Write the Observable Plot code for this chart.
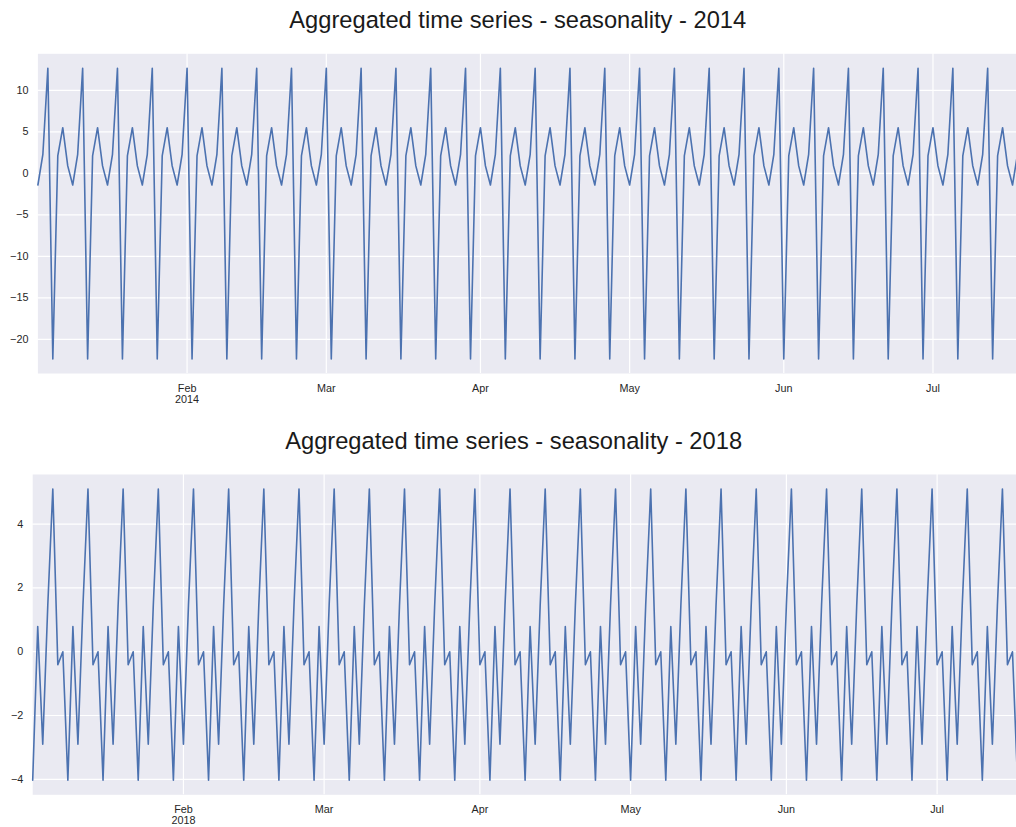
<!DOCTYPE html>
<html>
<head>
<meta charset="utf-8">
<script src="https://cdn.jsdelivr.net/npm/d3@7"></script>
<script src="https://cdn.jsdelivr.net/npm/@observablehq/plot@0.6"></script>
<style>
  html, body { margin: 0; padding: 0; background: #ffffff; overflow: hidden; }
  svg { display: block; }
</style>
</head>
<body>
<div id="charts"></div>
<script>
// Weekly seasonal component of the aggregated series, one row per week.
// 2014 rows run Thursday → Wednesday, starting Thu 2 Jan 2014.
const seasonal2014 = [
  -1.4, 2.3, 12.65, -22.35, 2.1, 5.5, 0.9,
  -1.4, 2.3, 12.65, -22.35, 2.1, 5.5, 0.9,
  -1.4, 2.3, 12.65, -22.35, 2.1, 5.5, 0.9,
  -1.4, 2.3, 12.65, -22.35, 2.1, 5.5, 0.9,
  -1.4, 2.3, 12.65, -22.35, 2.1, 5.5, 0.9,
  -1.4, 2.3, 12.65, -22.35, 2.1, 5.5, 0.9,
  -1.4, 2.3, 12.65, -22.35, 2.1, 5.5, 0.9,
  -1.4, 2.3, 12.65, -22.35, 2.1, 5.5, 0.9,
  -1.4, 2.3, 12.65, -22.35, 2.1, 5.5, 0.9,
  -1.4, 2.3, 12.65, -22.35, 2.1, 5.5, 0.9,
  -1.4, 2.3, 12.65, -22.35, 2.1, 5.5, 0.9,
  -1.4, 2.3, 12.65, -22.35, 2.1, 5.5, 0.9,
  -1.4, 2.3, 12.65, -22.35, 2.1, 5.5, 0.9,
  -1.4, 2.3, 12.65, -22.35, 2.1, 5.5, 0.9,
  -1.4, 2.3, 12.65, -22.35, 2.1, 5.5, 0.9,
  -1.4, 2.3, 12.65, -22.35, 2.1, 5.5, 0.9,
  -1.4, 2.3, 12.65, -22.35, 2.1, 5.5, 0.9,
  -1.4, 2.3, 12.65, -22.35, 2.1, 5.5, 0.9,
  -1.4, 2.3, 12.65, -22.35, 2.1, 5.5, 0.9,
  -1.4, 2.3, 12.65, -22.35, 2.1, 5.5, 0.9,
  -1.4, 2.3, 12.65, -22.35, 2.1, 5.5, 0.9,
  -1.4, 2.3, 12.65, -22.35, 2.1, 5.5, 0.9,
  -1.4, 2.3, 12.65, -22.35, 2.1, 5.5, 0.9,
  -1.4, 2.3, 12.65, -22.35, 2.1, 5.5, 0.9,
  -1.4, 2.3, 12.65, -22.35, 2.1, 5.5, 0.9,
  -1.4, 2.3, 12.65, -22.35, 2.1, 5.5, 0.9,
  -1.4, 2.3, 12.65, -22.35, 2.1, 5.5, 0.9,
  -1.4, 2.3, 12.65, -22.35, 2.1, 5.5, 0.9,
  -1.4, 2.3
];

// 2018 rows run Tuesday → Monday, starting Tue 2 Jan 2018.
const seasonal2018 = [
  -4.03, 0.79, -2.9, 1.45, 5.1, -0.41, 0.0,
  -4.03, 0.79, -2.9, 1.45, 5.1, -0.41, 0.0,
  -4.03, 0.79, -2.9, 1.45, 5.1, -0.41, 0.0,
  -4.03, 0.79, -2.9, 1.45, 5.1, -0.41, 0.0,
  -4.03, 0.79, -2.9, 1.45, 5.1, -0.41, 0.0,
  -4.03, 0.79, -2.9, 1.45, 5.1, -0.41, 0.0,
  -4.03, 0.79, -2.9, 1.45, 5.1, -0.41, 0.0,
  -4.03, 0.79, -2.9, 1.45, 5.1, -0.41, 0.0,
  -4.03, 0.79, -2.9, 1.45, 5.1, -0.41, 0.0,
  -4.03, 0.79, -2.9, 1.45, 5.1, -0.41, 0.0,
  -4.03, 0.79, -2.9, 1.45, 5.1, -0.41, 0.0,
  -4.03, 0.79, -2.9, 1.45, 5.1, -0.41, 0.0,
  -4.03, 0.79, -2.9, 1.45, 5.1, -0.41, 0.0,
  -4.03, 0.79, -2.9, 1.45, 5.1, -0.41, 0.0,
  -4.03, 0.79, -2.9, 1.45, 5.1, -0.41, 0.0,
  -4.03, 0.79, -2.9, 1.45, 5.1, -0.41, 0.0,
  -4.03, 0.79, -2.9, 1.45, 5.1, -0.41, 0.0,
  -4.03, 0.79, -2.9, 1.45, 5.1, -0.41, 0.0,
  -4.03, 0.79, -2.9, 1.45, 5.1, -0.41, 0.0,
  -4.03, 0.79, -2.9, 1.45, 5.1, -0.41, 0.0,
  -4.03, 0.79, -2.9, 1.45, 5.1, -0.41, 0.0,
  -4.03, 0.79, -2.9, 1.45, 5.1, -0.41, 0.0,
  -4.03, 0.79, -2.9, 1.45, 5.1, -0.41, 0.0,
  -4.03, 0.79, -2.9, 1.45, 5.1, -0.41, 0.0,
  -4.03, 0.79, -2.9, 1.45, 5.1, -0.41, 0.0,
  -4.03, 0.79, -2.9, 1.45, 5.1, -0.41, 0.0,
  -4.03, 0.79, -2.9, 1.45, 5.1, -0.41, 0.0,
  -4.03, 0.79, -2.9, 1.45, 5.1, -0.41, 0.0,
  -4.03
];

const startDate2014 = "2014-01-02";
const startDate2018 = "2018-01-02";

// Month tick labels on the date axis
const monthLabels = ["Feb", "Mar", "Apr", "May", "Jun", "Jul"];

// Value ticks for each panel
const yTicks2014 = [-20, -15, -10, -5, 0, 5, 10];
const yTicks2018 = [-4, -2, 0, 2, 4];

const titleText = "Aggregated time series - seasonality - ";

const FONT = "'Liberation Sans', Arial, Helvetica, sans-serif";
const BG = "#EAEAF2";
const LINE = "#4C72B0";
const INK = "#262626";

function panel({year, start, values, yTicks, height, marginLeft, marginTop, marginBottom, titleDx, titleDy}) {
  const t0 = new Date(start + "T00:00:00Z");
  const rows = values.map((v, i) => ({date: d3.utcDay.offset(t0, i), value: v}));
  const [lo, hi] = d3.extent(values);
  const pad = (hi - lo) * 0.05;
  const monthTicks = monthLabels.map((_, i) => new Date(Date.UTC(year, i + 1, 1)));
  const fmt = (d) => {
    const m = d.getUTCMonth();
    return m === 1 ? `${monthLabels[0]}\n${year}` : monthLabels[m - 1];
  };
  return Plot.plot({
    width: 1016,
    height,
    marginLeft,
    marginRight: -1,
    marginTop,
    marginBottom,
    style: {fontFamily: FONT, fontSize: "10.8px", color: INK, background: "transparent", overflow: "visible"},
    x: {type: "utc", domain: d3.extent(rows, (d) => d.date), axis: null},
    y: {domain: [lo - pad, hi + pad], axis: null},
    marks: [
      Plot.frame({fill: BG, stroke: null}),
      Plot.gridX(monthTicks, {stroke: "#ffffff", strokeOpacity: 1, strokeWidth: 1.2}),
      Plot.gridY(yTicks, {stroke: "#ffffff", strokeOpacity: 1, strokeWidth: 1.2}),
      Plot.lineY(rows, {x: "date", y: "value", stroke: LINE, strokeWidth: 1.6}),
      Plot.axisX(monthTicks, {tickSize: 0, tickPadding: 10, tickFormat: fmt, label: null, fill: INK, lineHeight: 1.05}),
      Plot.axisY(yTicks, {tickSize: 0, tickPadding: 9.5, label: null, fill: INK}),
      Plot.text([titleText + year], {
        frameAnchor: "top",
        lineAnchor: "middle",
        dx: titleDx,
        dy: titleDy,
        fontSize: 23.7,
        fill: "#1a1a1a"
      })
    ]
  });
}

const root = document.getElementById("charts");
root.append(panel({
  year: 2014, start: startDate2014, values: seasonal2014, yTicks: yTicks2014,
  height: 415, marginLeft: 37.4, marginTop: 53.3, marginBottom: 42, titleDx: -10, titleDy: -33
}));
root.append(panel({
  year: 2018, start: startDate2018, values: seasonal2018, yTicks: yTicks2018,
  height: 412, marginLeft: 32.2, marginTop: 59, marginBottom: 32.7, titleDx: -11.5, titleDy: -33.5
}));
</script>
</body>
</html>
